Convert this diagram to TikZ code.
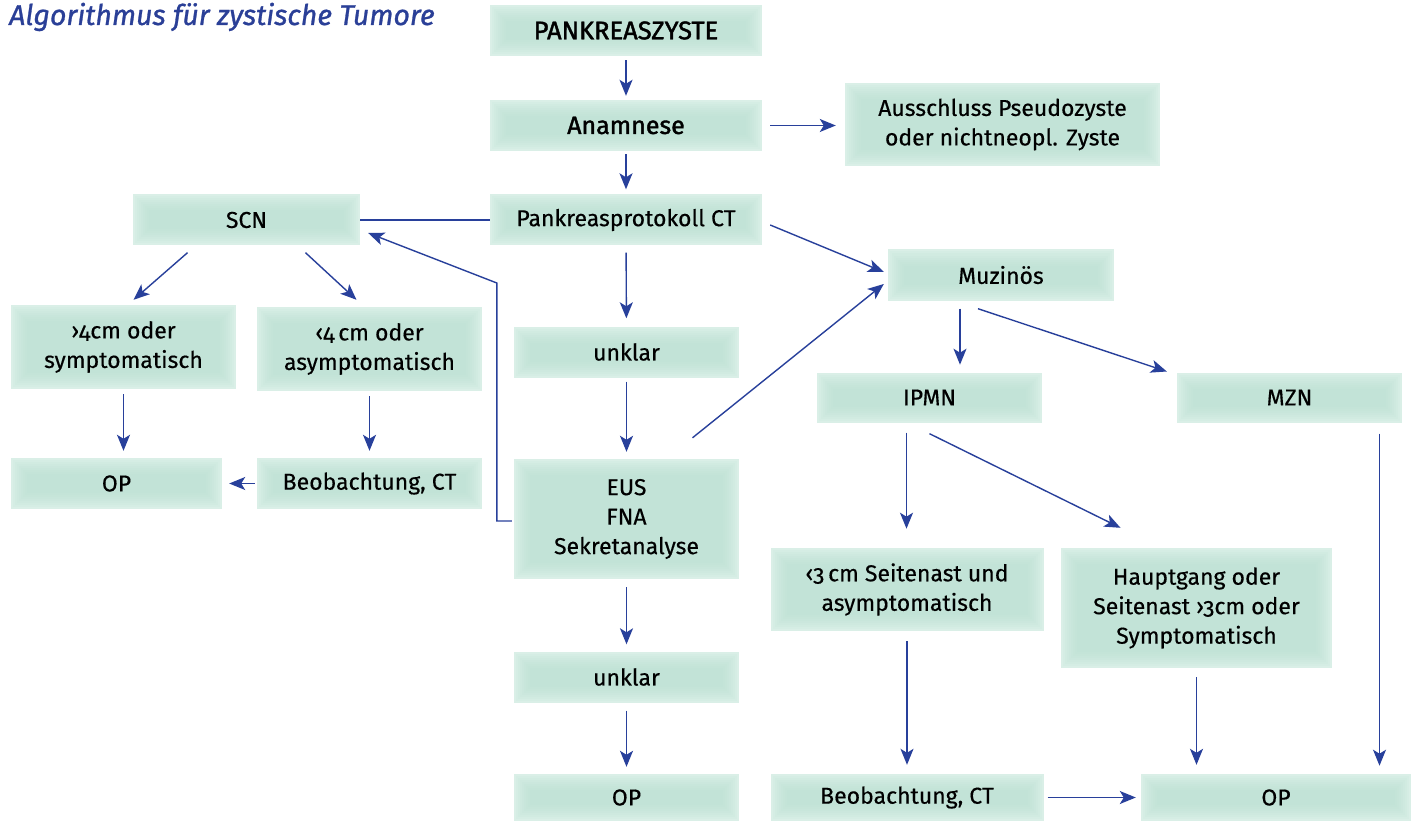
\documentclass[tikz,border=0pt]{standalone}
\usepackage{fontspec}
\setmainfont{Fira Sans}[Numbers=OldStyle, FakeBold=0.4]
\newfontfamily\heavyfont{Fira Sans}[Numbers=OldStyle, FakeBold=1.6]
\newfontfamily\titlefont{Fira Sans}[Numbers=OldStyle, FakeBold=1.0]
\usetikzlibrary{arrows.meta,calc}
\definecolor{boxedge}{RGB}{218,239,231}
\definecolor{boxmid}{RGB}{186,225,210}
\definecolor{arrc}{RGB}{40,64,155}
\definecolor{titc}{RGB}{42,63,151}
\newcommand{\boxfont}{\fontsize{23}{29.5}\selectfont}
\begin{document}
\begin{tikzpicture}[x=1pt,y=-1pt,
  box/.style={fill=boxedge, inner sep=0pt, align=center, font=\boxfont, text=black,
    path picture={\foreach \d in {2,4,...,16}{\fill[boxmid, opacity=0.13]
      ([shift={(\d pt,-\d pt)}]path picture bounding box.north west) rectangle
      ([shift={(-\d pt,\d pt)}]path picture bounding box.south east);}}},
  arr/.style={draw=arrc, line width=1.4pt, -{Stealth[length=16pt,width=13pt,inset=4pt]}},
  plainline/.style={draw=arrc, line width=1.4pt}]
\useasboundingbox (0,0) rectangle (1411,821);
\fill[white] (0,0) rectangle (1411,821);

\node[anchor=base west, font=\titlefont\fontsize{28.5}{32}\selectfont\itshape, text=titc, inner sep=0pt] (title) at (9,25) {Algorithmus für zystische Tumore};

\node[box, minimum width=272pt, minimum height=51pt, font=\heavyfont\fontsize{25.5}{30}\selectfont] (pank) at (626,30.5) {PANKREASZYSTE};
\node[box, minimum width=272pt, minimum height=51pt, font=\heavyfont\fontsize{25}{30}\selectfont] (anam) at (626,125.5) {Anamnese};
\node[box, minimum width=315pt, minimum height=83pt] (aus) at (1002.5,124.5) {Ausschluss Pseudozyste\\oder nichtneopl. Zyste};
\node[box, minimum width=272pt, minimum height=51pt] (pct) at (626,220) {Pankreasprotokoll CT};
\node[box, minimum width=227pt, minimum height=51pt] (scn) at (246.5,220) {SCN};
\node[box, minimum width=226pt, minimum height=51pt] (muz) at (1001,275) {Muzinös};
\node[box, minimum width=225pt, minimum height=84pt] (gt4) at (123.5,347) {›4cm oder\\symptomatisch};
\node[box, minimum width=225pt, minimum height=84pt] (lt4) at (369.5,349) {‹4\,cm oder\\asymptomatisch};
\node[box, minimum width=225pt, minimum height=51pt] (unk1) at (626.5,352) {unklar};
\node[box, minimum width=225pt, minimum height=50pt] (ipmn) at (929.5,397.5) {IPMN};
\node[box, minimum width=225pt, minimum height=50pt] (mzn) at (1289.5,397.5) {MZN};
\node[box, minimum width=211pt, minimum height=51pt] (opl) at (116.5,483.5) {OP};
\node[box, minimum width=225pt, minimum height=51pt] (beobl) at (369.5,483.5) {Beobachtung, CT};
\node[box, minimum width=225pt, minimum height=120pt] (eus) at (626.5,519) {EUS\\FNA\\Sekretanalyse};
\node[box, minimum width=273pt, minimum height=83pt] (lt3) at (907,589.5) {‹3\,cm Seitenast und\\asymptomatisch};
\node[box, minimum width=271pt, minimum height=120pt] (haupt) at (1196.5,608) {Hauptgang oder\\Seitenast ›3cm oder\\Symptomatisch};
\node[box, minimum width=225pt, minimum height=51pt] (unk2) at (626.5,677) {unklar};
\node[box, minimum width=225pt, minimum height=47pt] (opm) at (626.5,797.5) {OP};
\node[box, minimum width=273pt, minimum height=47pt] (beobm) at (907,797.5) {Beobachtung, CT};
\node[box, minimum width=270pt, minimum height=47pt] (opr) at (1276,797.5) {OP};

\draw[arr, shorten <=4pt, shorten >=4pt] (pank) -- (anam);
\draw[arr, shorten <=8pt, shorten >=9pt] (anam.east) -- (anam.east -| aus.west);
\draw[arr, shorten <=3pt, shorten >=5pt] (anam) -- (pct);
\draw[plainline] (pct.west) -- (scn.east);
\draw[arr] ([shift={(8,5)}]pct.east) -- ([shift={(-4,-3)}]muz.west);
\draw[arr, shorten <=7pt, shorten >=8pt] (pct) -- (unk1);
\draw[arr] ([shift={(-59,7)}]scn.south) -- ([shift={(10,-5)}]gt4.north);
\draw[arr] ([shift={(59,7)}]scn.south) -- ([shift={(-13,-7)}]lt4.north);
\draw[arr, shorten <=5pt, shorten >=7pt] (gt4.south) -- (gt4.south |- opl.north);
\draw[arr, shorten <=5pt, shorten >=7pt] (lt4) -- (beobl);
\draw[arr, shorten <=2pt, shorten >=7pt] (beobl) -- (opl);
\draw[arr, shorten <=4pt, shorten >=7pt] (unk1) -- (eus);
\draw[arr] ([shift={(-2,2)}]eus.west) -- ++(-15,0) -- ++(0,-238) -- ([shift={(8,13)}]scn.east);
\draw[arr] ([shift={(66,-21)}]eus.north) -- ([shift={(-4,9)}]muz.west);
\draw[arr, shorten <=8pt, shorten >=7pt] (eus) -- (unk2);
\draw[arr, shorten <=8pt, shorten >=7pt] (unk2) -- (opm);
\draw[arr] ([shift={(-41,8)}]muz.south) -- ++(0,56);
\draw[arr] ([shift={(-23,8)}]muz.south) -- ([shift={(-10,-26)}]mzn.west);
\draw[arr] ([shift={(-23,10)}]ipmn.south) -- ++(0,96);
\draw[arr] ([shift={(0,11)}]ipmn.south) -- ([shift={(-76,-20)}]haupt.north);
\draw[arr, shorten <=10pt, shorten >=9pt] (lt3) -- (beobm);
\draw[arr, shorten <=9pt, shorten >=9pt] (haupt.south) -- (haupt.south |- opr.north);
\draw[arr] ([shift={(90,11)}]mzn.south) -- ++(0,332);
\draw[arr, shorten <=4pt, shorten >=5pt] (beobm) -- (opr);
\end{tikzpicture}
\end{document}
